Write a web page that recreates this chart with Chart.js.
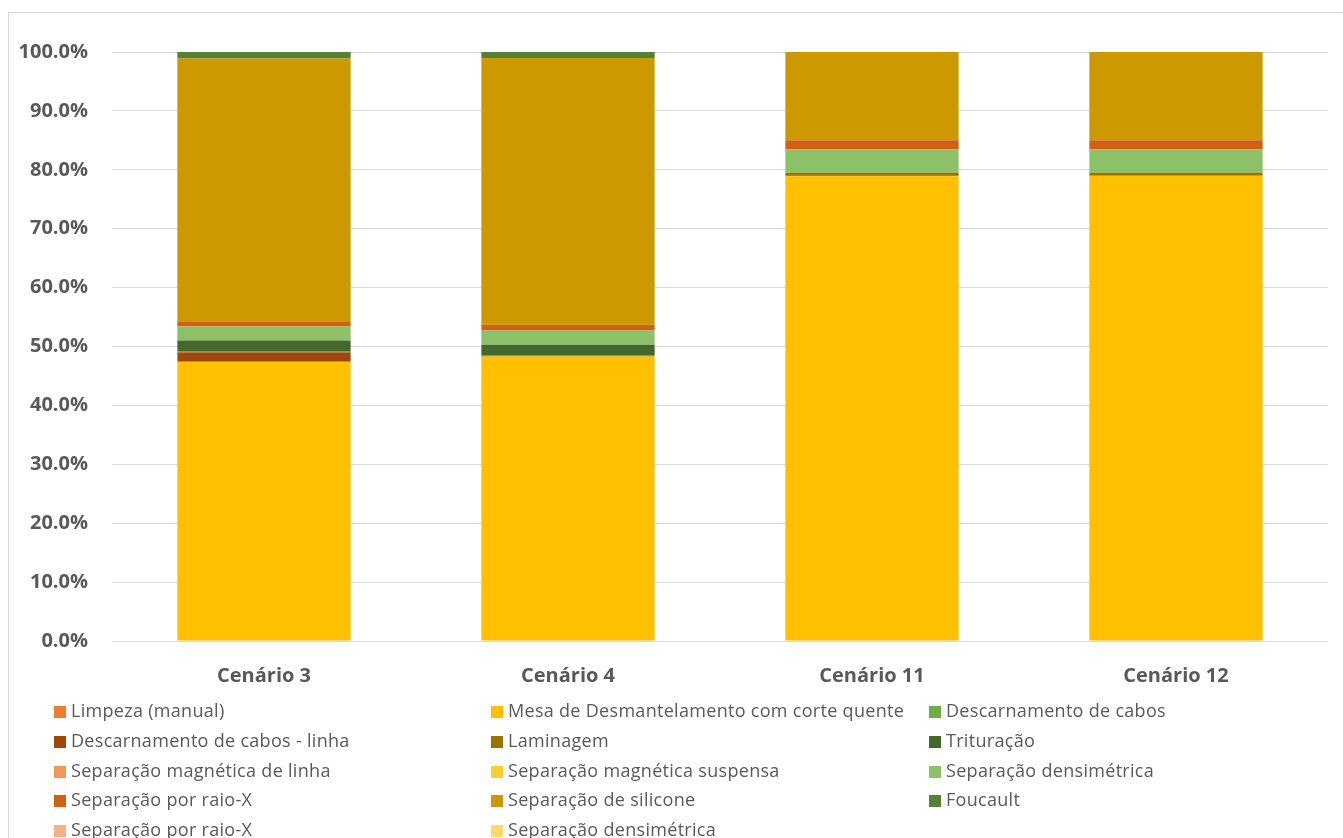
<!DOCTYPE html>
<html>
<head>
<meta charset="utf-8">
<script src="https://cdn.jsdelivr.net/npm/chart.js@4/dist/chart.umd.min.js"></script>
<style>
  html, body { margin: 0; padding: 0; background: #fff; overflow: hidden; }
  #frame {
    position: absolute; left: 8px; top: 12px; width: 1400px; height: 900px;
    border: 1px solid #d9d9d9; box-sizing: border-box;
  }
  #wrap { position: absolute; left: 0; top: 0; width: 1343px; height: 700px; }
  #legend {
    position: absolute; left: 54px; top: 696px; width: 1300px;
    display: grid; grid-template-columns: 437px 438px 400px; row-gap: 0;
    font-family: 'Open Sans', 'Noto Sans', sans-serif; font-size: 18px; color: #595959;
    letter-spacing: 0.3px;
  }
  #legend div { height: 29.75px; line-height: 29.75px; white-space: nowrap; }
  #legend span.box {
    display: inline-block; width: 12px; height: 12px; margin-right: 5px;
    vertical-align: -1px;
  }
</style>
</head>
<body>
<div id="frame"></div>
<div id="wrap"><canvas id="c"></canvas></div>
<div id="legend"></div>
<script>
  // categorias e valores (% do total)
  var categories = ['Cenário 3', 'Cenário 4', 'Cenário 11', 'Cenário 12'];

  var limpezaManual        = [0, 0, 0, 0];
  var mesaCorteQuente      = [47.4, 48.3, 78.9, 79.0];
  var descarnamentoCabos   = [0, 0, 0, 0];
  var descarnamentoLinha   = [1.6, 0, 0.1, 0];
  var laminagem            = [0.2, 0.2, 0.5, 0.5];
  var trituracao           = [1.8, 1.8, 0, 0];
  var sepMagneticaLinha    = [0, 0, 0, 0];
  var sepMagneticaSuspensa = [0, 0, 0, 0];
  var sepDensimetrica      = [2.4, 2.4, 4.0, 4.0];
  var sepRaioX             = [0.9, 1.0, 1.5, 1.5];
  var sepSilicone          = [44.6, 45.3, 15.0, 15.0];
  var foucault             = [1.1, 1.0, 0, 0];
  var sepRaioX2            = [0, 0, 0, 0];
  var sepDensimetrica2     = [0, 0, 0, 0];

  var yTicks = [0, 10, 20, 30, 40, 50, 60, 70, 80, 90, 100];

  var series = [
    ['Limpeza (manual)', limpezaManual, '#ED7D31'],
    ['Mesa de Desmantelamento com corte quente', mesaCorteQuente, '#FFC000'],
    ['Descarnamento de cabos', descarnamentoCabos, '#70AD47'],
    ['Descarnamento de cabos - linha', descarnamentoLinha, '#9E480E'],
    ['Laminagem', laminagem, '#997300'],
    ['Trituração', trituracao, '#43682B'],
    ['Separação magnética de linha', sepMagneticaLinha, '#F1975A'],
    ['Separação magnética suspensa', sepMagneticaSuspensa, '#FFCD33'],
    ['Separação densimétrica', sepDensimetrica, '#8CC168'],
    ['Separação por raio-X', sepRaioX, '#D26012'],
    ['Separação de silicone', sepSilicone, '#CC9A00'],
    ['Foucault', foucault, '#548235'],
    ['Separação por raio-X', sepRaioX2, '#F4B183'],
    ['Separação densimétrica', sepDensimetrica2, '#FFD966']
  ];

  var datasets = series.map(function (s) {
    return {
      label: s[0],
      data: s[1],
      backgroundColor: s[2],
      borderWidth: 0,
      categoryPercentage: 1,
      barPercentage: 0.57
    };
  });

  var tickFont = { family: "'Open Sans', 'Noto Sans', sans-serif", size: 20, weight: 'bold' };

  var chart = new Chart(document.getElementById('c'), {
    type: 'bar',
    data: { labels: categories, datasets: datasets },
    options: {
      responsive: true,
      maintainAspectRatio: false,
      animation: false,
      layout: { padding: { top: 52, right: 15, left: 0, bottom: 0 } },
      plugins: { legend: { display: false }, tooltip: { enabled: false } },
      scales: {
        x: {
          stacked: true,
          grid: { display: false },
          border: { display: false },
          ticks: { color: '#595959', font: tickFont, padding: 15 },
          afterFit: function (s) { s.height = 59; }
        },
        y: {
          stacked: true,
          min: 0, max: 100,
          afterBuildTicks: function (s) {
            s.ticks = yTicks.map(function (v) { return { value: v }; });
          },
          grid: { color: '#d9d9d9', lineWidth: 1, drawTicks: false },
          border: { display: false },
          ticks: {
            color: '#595959', font: tickFont, padding: 24,
            callback: function (v) { return v.toFixed(1) + '%'; }
          },
          afterFit: function (s) { s.width = 112; }
        }
      }
    }
  });

  // legenda em grade de 3 colunas, como no original
  var legend = document.getElementById('legend');
  series.forEach(function (s) {
    var d = document.createElement('div');
    var b = document.createElement('span');
    b.className = 'box';
    b.style.background = s[2];
    d.appendChild(b);
    d.appendChild(document.createTextNode(s[0]));
    legend.appendChild(d);
  });
</script>
</body>
</html>
